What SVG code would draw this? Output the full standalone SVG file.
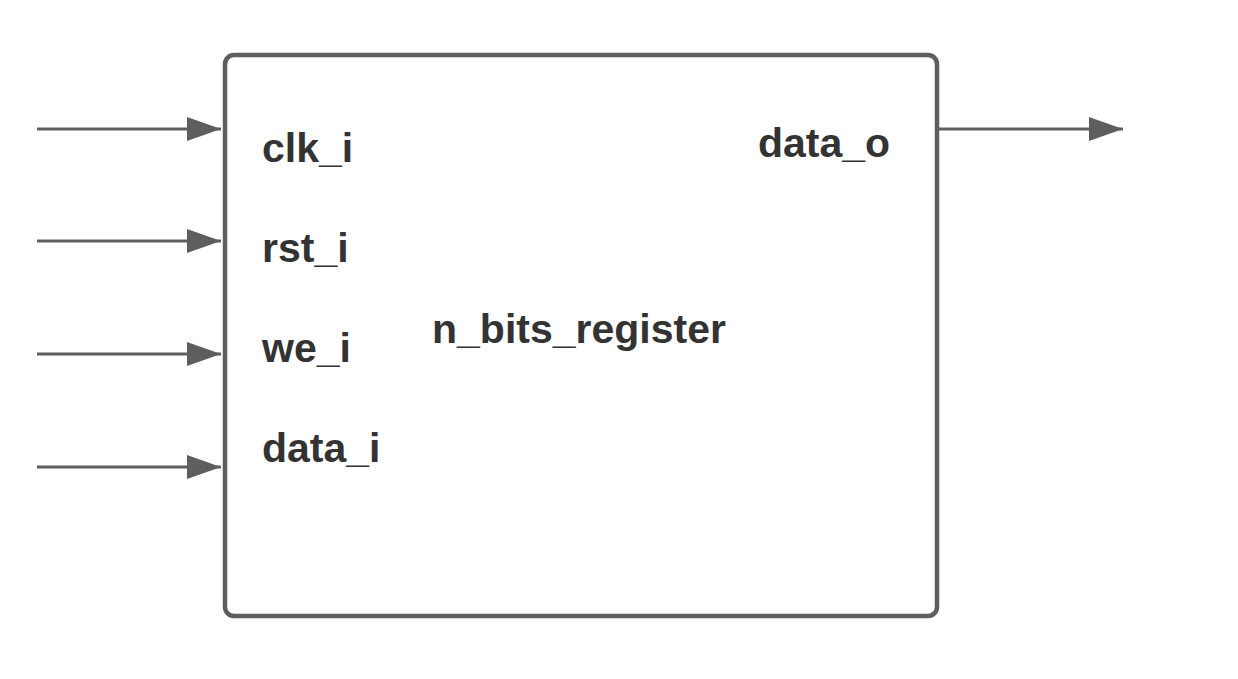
<svg xmlns="http://www.w3.org/2000/svg" width="1238" height="679" viewBox="0 0 1238 679">
<style>
.lbl{font-family:"Liberation Sans",Arial,sans-serif;font-weight:bold;font-size:41px;fill:#333333}
.wire{stroke:#5e5e5e;stroke-width:3;fill:none}
</style>
<defs>
<marker id="arr" markerUnits="userSpaceOnUse" markerWidth="36" markerHeight="26" refX="34" refY="12" orient="auto">
<path d="M0,0 L34,12 L0,24 Z" fill="#5e5e5e"/>
</marker>
</defs>
<rect width="1238" height="679" fill="#ffffff"/>
<g id="register">
<rect x="225" y="55" width="712" height="561" rx="9" ry="9" fill="#ffffff" stroke="#5e5e5e" stroke-width="4.5"/>
<text class="lbl" x="432" y="343">n_bits_register</text>
<text class="lbl" x="262" y="162">clk_i</text>
<text class="lbl" x="262" y="262">rst_i</text>
<text class="lbl" x="262" y="362">we_i</text>
<text class="lbl" x="262" y="462">data_i</text>
<text class="lbl" x="758" y="157">data_o</text>
</g>
<g id="connectors">
<line class="wire" x1="37" y1="129" x2="221" y2="129" marker-end="url(#arr)"/>
<line class="wire" x1="37" y1="241" x2="221" y2="241" marker-end="url(#arr)"/>
<line class="wire" x1="37" y1="354" x2="221" y2="354" marker-end="url(#arr)"/>
<line class="wire" x1="37" y1="467" x2="221" y2="467" marker-end="url(#arr)"/>
<line class="wire" x1="939" y1="129" x2="1123" y2="129" marker-end="url(#arr)"/>
</g>
</svg>
